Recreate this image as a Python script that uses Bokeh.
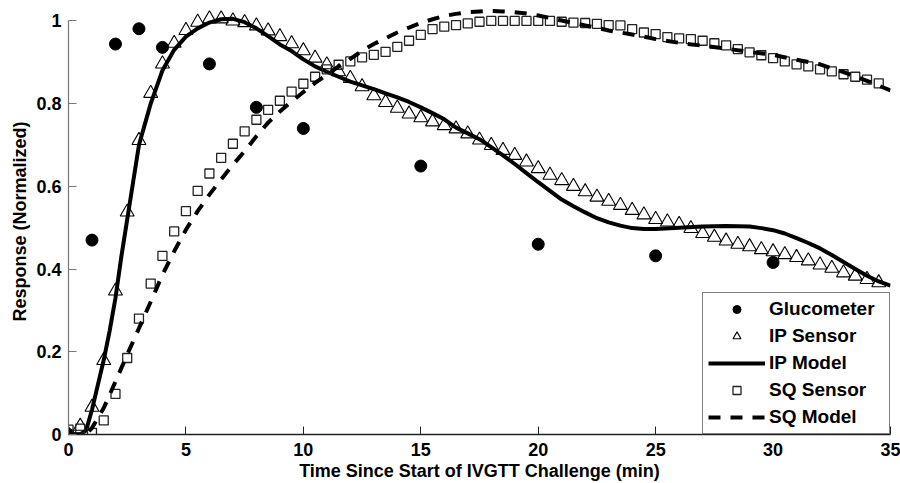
from bokeh.plotting import figure
from bokeh.models import Range1d, FixedTicker, Legend, LegendItem
from bokeh.embed import file_html
from bokeh.resources import INLINE

# ---------------- data ----------------
gluc_t = [0, 1, 2, 3, 4, 6, 8, 10, 15, 20, 25, 30]
gluc_v = [0.0, 0.47, 0.944, 0.981, 0.936, 0.896, 0.791, 0.740, 0.649, 0.460, 0.432, 0.416]

sensor_t = [0.0, 0.5, 1.0, 1.5, 2.0, 2.5, 3.0, 3.5, 4.0, 4.5,
            5.0, 5.5, 6.0, 6.5, 7.0, 7.5, 8.0, 8.5, 9.0, 9.5,
            10.0, 10.5, 11.0, 11.5, 12.0, 12.5, 13.0, 13.5, 14.0, 14.5,
            15.0, 15.5, 16.0, 16.5, 17.0, 17.5, 18.0, 18.5, 19.0, 19.5,
            20.0, 20.5, 21.0, 21.5, 22.0, 22.5, 23.0, 23.5, 24.0, 24.5,
            25.0, 25.5, 26.0, 26.5, 27.0, 27.5, 28.0, 28.5, 29.0, 29.5,
            30.0, 30.5, 31.0, 31.5, 32.0, 32.5, 33.0, 33.5, 34.0, 34.5]

ip_sensor = [0.0, 0.02, 0.066, 0.179, 0.347, 0.538, 0.711, 0.825, 0.896, 0.946,
             0.977, 0.997, 1.005, 1.005, 1.0, 0.996, 0.988, 0.976, 0.962, 0.945,
             0.928, 0.910, 0.894, 0.877, 0.861, 0.841, 0.819, 0.803, 0.789, 0.775,
             0.766, 0.756, 0.747, 0.739, 0.727, 0.712, 0.699, 0.687, 0.675, 0.659,
             0.643, 0.627, 0.614, 0.600, 0.587, 0.574, 0.564, 0.554, 0.542, 0.531,
             0.520, 0.514, 0.508, 0.498, 0.486, 0.477, 0.468, 0.460, 0.454, 0.447,
             0.442, 0.435, 0.428, 0.420, 0.410, 0.402, 0.391, 0.383, 0.375, 0.367]

sq_sensor = [0.012, 0.014, 0.004, 0.034, 0.098, 0.185, 0.280, 0.365, 0.432, 0.491,
             0.540, 0.589, 0.631, 0.669, 0.703, 0.733, 0.761, 0.785, 0.807, 0.829,
             0.848, 0.865, 0.883, 0.894, 0.902, 0.912, 0.918, 0.925, 0.937, 0.952,
             0.966, 0.980, 0.986, 0.990, 0.994, 0.998, 1.0, 1.0, 1.0, 1.0,
             1.0, 1.0, 0.998, 0.996, 0.995, 0.993, 0.990, 0.989, 0.980, 0.972,
             0.968, 0.961, 0.958, 0.956, 0.952, 0.946, 0.941, 0.932, 0.924, 0.917,
             0.910, 0.902, 0.895, 0.890, 0.883, 0.878, 0.871, 0.865, 0.858, 0.849]

ip_model_t = [0, 0.5, 0.75, 1.0, 1.25, 1.5, 1.75, 2.0, 2.25, 2.5, 2.75, 3.0, 3.5, 4.0, 4.5,
              5.0, 5.5, 6.0, 6.5, 7.0, 7.5, 8.0, 8.5, 9.0, 9.5, 10, 10.5, 11, 11.5, 12,
              12.5, 13, 13.5, 14, 14.5, 15, 15.5, 16, 16.5, 17, 17.5, 18, 18.5, 19, 19.5,
              20, 20.5, 21, 21.5, 22, 22.5, 23, 23.5, 24, 24.5, 25, 26, 27, 28, 29, 29.5,
              30, 30.5, 31, 31.5, 32, 32.5, 33, 33.5, 34, 34.5, 35]
ip_model_v = [0.0, 0.0, 0.01, 0.06, 0.12, 0.18, 0.25, 0.33, 0.43, 0.52, 0.61, 0.70, 0.80, 0.88, 0.93,
              0.962, 0.982, 0.996, 1.004, 1.005, 0.997, 0.982, 0.963, 0.943, 0.927, 0.907, 0.890, 0.877, 0.865, 0.853,
              0.844, 0.835, 0.825, 0.815, 0.804, 0.791, 0.777, 0.762, 0.742, 0.728, 0.714, 0.695, 0.675, 0.654, 0.632,
              0.610, 0.589, 0.568, 0.552, 0.537, 0.523, 0.513, 0.505, 0.499, 0.497, 0.497, 0.500, 0.503, 0.504, 0.503, 0.499,
              0.494, 0.486, 0.475, 0.463, 0.450, 0.434, 0.417, 0.400, 0.384, 0.370, 0.360]

sq_model_t = [0, 0.5, 0.75, 1.0, 1.5, 2.0, 2.5, 3.0, 3.5, 4.0, 4.5, 5.0, 5.5, 6.0, 6.5,
              7.0, 7.5, 8.0, 8.5, 9.0, 9.5, 10.0, 10.5, 11.0, 11.5, 12.0, 12.5, 13.0, 13.5, 14.0,
              14.5, 15.0, 15.5, 16.0, 16.5, 17.0, 17.5, 18.0, 18.5, 19.0, 19.5, 20.0, 20.5, 21.0, 21.5,
              22.0, 22.5, 23.0, 23.5, 24.0, 24.5, 25.0, 26.0, 27.0, 28.0, 29.0, 30.0, 31.0, 32.0, 33.0,
              34.0, 35.0]
sq_model_v = [0.0, 0.0, 0.0, 0.016, 0.064, 0.128, 0.193, 0.257, 0.321, 0.386, 0.443, 0.495, 0.540, 0.580, 0.617,
              0.652, 0.685, 0.721, 0.754, 0.781, 0.805, 0.828, 0.850, 0.870, 0.890, 0.908, 0.928, 0.944, 0.958, 0.972,
              0.984, 0.995, 1.004, 1.012, 1.017, 1.021, 1.023, 1.024, 1.023, 1.021, 1.018, 1.013, 1.007, 1.001, 0.995,
              0.989, 0.983, 0.977, 0.972, 0.967, 0.962, 0.956, 0.947, 0.940, 0.933, 0.925, 0.918, 0.906, 0.895, 0.876,
              0.855, 0.832]

x_ticks = [0, 5, 10, 15, 20, 25, 30, 35]
y_ticks = [0, 0.2, 0.4, 0.6, 0.8, 1]
y_tick_labels = {0: "0", 0.2: "0.2", 0.4: "0.4", 0.6: "0.6", 0.8: "0.8", 1: "1"}

labels = ["Glucometer", "IP Sensor", "IP Model", "SQ Sensor", "SQ Model"]
x_title = "Time Since Start of IVGTT Challenge (min)"
y_title = "Response (Normalized)"

FONT = "Liberation Sans"

# ---------------- figure ----------------
p = figure(width=900, height=483, output_backend="svg", toolbar_location=None,
           x_range=Range1d(0, 35), y_range=Range1d(0, 1.03),
           min_border_left=68, min_border_right=10, min_border_top=8, min_border_bottom=48)
p.outline_line_color = None
p.grid.visible = False
p.background_fill_color = "white"
p.border_fill_color = "white"

r_gl = p.scatter(gluc_t, gluc_v, marker="circle", size=12, fill_color="black", line_color="black")
r_ips = p.scatter(sensor_t, ip_sensor, marker="triangle", size=14, fill_color=None,
                  line_color="black", line_width=1.1)
r_ipm = p.line(ip_model_t, ip_model_v, line_color="black", line_width=4, line_join="round")
r_sqs = p.scatter(sensor_t, sq_sensor, marker="square", size=9, fill_color=None,
                  line_color="#222222", line_width=1.3)
r_sqm = p.line(sq_model_t, sq_model_v, line_color="black", line_width=4, line_dash="12 10")

# axes
xa = p.xaxis[0]
xa.ticker = FixedTicker(ticks=x_ticks)
xa.bounds = (0, 35)
xa.axis_label = x_title
ya = p.yaxis[0]
ya.ticker = FixedTicker(ticks=y_ticks)
ya.bounds = (0, 1)
ya.major_label_overrides = y_tick_labels
ya.axis_label = y_title

for ax in (xa, ya):
    ax.major_tick_in = 8
    ax.major_tick_out = 0
    ax.minor_tick_line_color = None
    ax.major_label_text_font = FONT
    ax.major_label_text_font_style = "bold"
    ax.major_label_text_font_size = "18px"
    ax.major_label_text_color = "black"
    ax.axis_label_text_font = FONT
    ax.axis_label_text_font_style = "bold"
    ax.axis_label_text_font_size = "18px"
    ax.axis_label_text_color = "black"

xa.axis_line_color = "#222222"
xa.axis_line_width = 1.5
xa.major_tick_line_color = "#222222"
xa.major_label_standoff = 8
xa.axis_label_standoff = 2
ya.axis_line_color = "#777777"
ya.axis_line_width = 1.2
ya.major_tick_line_color = "#777777"
ya.major_label_standoff = 7
ya.axis_label_standoff = 3

legend = Legend(items=[LegendItem(label=labels[0], renderers=[r_gl]),
                       LegendItem(label=labels[1], renderers=[r_ips]),
                       LegendItem(label=labels[2], renderers=[r_ipm]),
                       LegendItem(label=labels[3], renderers=[r_sqs]),
                       LegendItem(label=labels[4], renderers=[r_sqm])],
                location="bottom_right", margin=0, padding=5, spacing=5,
                glyph_width=57, glyph_height=20, label_height=20, label_width=115,
                label_standoff=4,
                border_line_color="black", border_line_width=1.5,
                background_fill_color="white", background_fill_alpha=1.0,
                label_text_font=FONT, label_text_font_style="bold",
                label_text_font_size="19px", label_text_color="black")
p.add_layout(legend)

open("out.html", "w").write(file_html(p, INLINE))
